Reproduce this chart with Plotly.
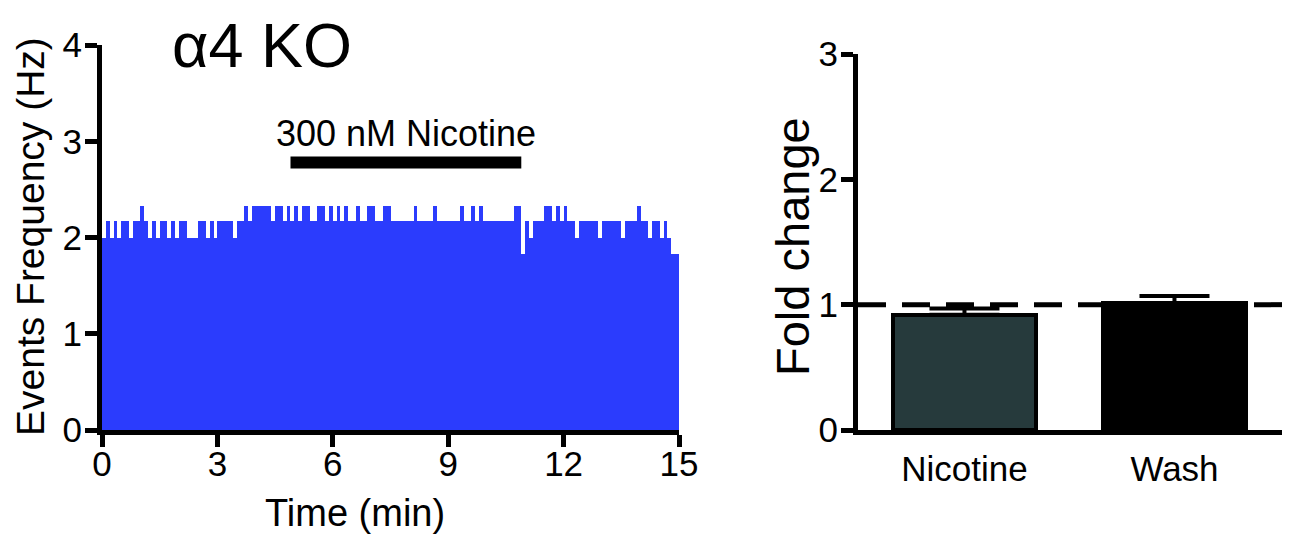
import plotly.graph_objects as go

# ---------------- data ----------------
# Left panel: event frequency (Hz) in consecutive 6-s bins over 15 min
bin_width_min = 0.1
freq_hz = [
    2.0, 2.17, 2.0, 2.17, 2.0, 2.17, 2.17, 2.0, 2.17, 2.17,
    2.33, 2.17, 2.0, 2.17, 2.0, 2.17, 2.17, 2.0, 2.17, 2.0,
    2.17, 2.17, 2.0, 2.0, 2.0, 2.17, 2.17, 2.0, 2.17, 2.0,
    2.17, 2.17, 2.17, 2.17, 2.0, 2.17, 2.17, 2.33, 2.17, 2.33,
    2.33, 2.33, 2.33, 2.33, 2.17, 2.33, 2.33, 2.17, 2.33, 2.17,
    2.33, 2.17, 2.33, 2.33, 2.17, 2.17, 2.33, 2.33, 2.17, 2.33,
    2.17, 2.33, 2.17, 2.33, 2.17, 2.17, 2.33, 2.17, 2.17, 2.33,
    2.33, 2.17, 2.17, 2.33, 2.33, 2.17, 2.17, 2.17, 2.17, 2.17,
    2.17, 2.33, 2.17, 2.17, 2.17, 2.17, 2.33, 2.17, 2.17, 2.17,
    2.17, 2.17, 2.17, 2.33, 2.17, 2.17, 2.33, 2.17, 2.33, 2.17,
    2.17, 2.17, 2.17, 2.17, 2.17, 2.17, 2.17, 2.33, 2.33, 1.83,
    2.17, 2.0, 2.17, 2.17, 2.17, 2.33, 2.33, 2.17, 2.33, 2.17,
    2.33, 2.17, 2.17, 2.0, 2.17, 2.17, 2.17, 2.17, 2.17, 2.0,
    2.17, 2.17, 2.17, 2.17, 2.17, 2.0, 2.17, 2.17, 2.17, 2.33,
    2.17, 2.17, 2.0, 2.17, 2.17, 2.0, 2.17, 2.0, 1.83, 1.83,
]
time_ticks = [0, 3, 6, 9, 12, 15]
freq_ticks = [0, 1, 2, 3, 4]
nicotine_window_min = [4.9, 10.9]
nicotine_bar_level = 2.78

# Right panel: fold change
conditions = ["Nicotine", "Wash"]
fold_change = [0.92, 1.01]
fold_sem = [0.05, 0.06]
fold_ticks = [0, 1, 2, 3]
baseline = 1.0

# ---------------- styles ----------------
W, H = 1292, 538
OFF = 8  # page body margin in the browser
FONT = "Arial, Liberation Sans, sans-serif"
BLUE = "#2b3cfd"
BAR_COLORS = ["#263a3c", "#000000"]


def px(x):
    return (x - OFF) / W


def py(y):
    return 1 - (y - OFF) / H


centers = [bin_width_min * (i + 0.5) for i in range(len(freq_hz))]

fig = go.Figure()

fig.add_trace(go.Bar(
    x=centers, y=freq_hz, width=bin_width_min,
    marker=dict(color=BLUE, line=dict(width=0)),
    xaxis="x", yaxis="y", showlegend=False, hoverinfo="skip",
))

fig.add_trace(go.Scatter(
    x=nicotine_window_min, y=[nicotine_bar_level] * 2, mode="lines",
    line=dict(color="black", width=12),
    xaxis="x", yaxis="y", showlegend=False, hoverinfo="skip",
))

cat_pos = list(range(len(conditions)))
fig.add_trace(go.Bar(
    x=cat_pos, y=fold_change, width=0.68,
    marker=dict(color=BAR_COLORS, line=dict(color="black", width=4)),
    error_y=dict(type="data", array=fold_sem, arrayminus=[0] * len(fold_sem),
                 symmetric=False, color="black", thickness=4, width=35),
    xaxis="x2", yaxis="y2", showlegend=False, hoverinfo="skip",
))

fig.add_trace(go.Scatter(
    x=[-0.507, 1.512], y=[baseline, baseline], mode="lines",
    line=dict(color="black", width=5, dash="28px,16px"),
    xaxis="x2", yaxis="y2", showlegend=False, hoverinfo="skip",
))

axis_common = dict(
    showline=True, linewidth=5, linecolor="black", showgrid=False,
    zeroline=False, tickfont=dict(family=FONT, size=35, color="black"),
    tickcolor="black", automargin=False,
)

fig.update_layout(
    width=W, height=H,
    margin=dict(l=0, r=0, t=0, b=0, pad=0),
    paper_bgcolor="white", plot_bgcolor="white",
    bargap=0,
    font=dict(family=FONT, color="black"),
    xaxis=dict(
        domain=[px(102), px(679)], range=[0, 15], anchor="y",
        tickvals=time_ticks, ticks="outside", ticklen=12, tickwidth=5,
        ticklabelstandoff=-13,
        **axis_common,
    ),
    yaxis=dict(
        domain=[py(430), py(45)], range=[0, 4], anchor="x",
        tickvals=freq_ticks, ticks="outside", ticklen=12, tickwidth=5,
        ticklabelstandoff=-4,
        **axis_common,
    ),
    xaxis2=dict(
        domain=[px(858), px(1282)], range=[-0.507, 1.512], anchor="y2",
        tickvals=cat_pos, ticktext=conditions, ticks="", ticklabelstandoff=4,
        **axis_common,
    ),
    yaxis2=dict(
        domain=[py(430), py(54)], range=[0, 3], anchor="x2",
        tickvals=fold_ticks, ticks="outside", ticklen=12, tickwidth=5,
        ticklabelstandoff=-4,
        **axis_common,
    ),
    annotations=[
        dict(text="α4 KO", x=px(262), y=py(45), xref="paper", yref="paper",
             showarrow=False, font=dict(size=63, family=FONT), xanchor="center", yanchor="middle"),
        dict(text="300 nM Nicotine", x=(nicotine_window_min[0] + nicotine_window_min[1]) / 2,
             y=3.08, xref="x", yref="y", showarrow=False,
             font=dict(size=36, family=FONT), xanchor="center", yanchor="middle"),
        dict(text="Events Frequency (Hz)", x=px(30), y=py(237), xref="paper", yref="paper",
             showarrow=False, textangle=-90, font=dict(size=39, family=FONT),
             xanchor="center", yanchor="middle"),
        dict(text="Time (min)", x=px(355), y=py(513), xref="paper", yref="paper",
             showarrow=False, font=dict(size=38, family=FONT), xanchor="center", yanchor="middle"),
        dict(text="Fold change", x=px(793), y=py(247), xref="paper", yref="paper",
             showarrow=False, textangle=-90, font=dict(size=47, family=FONT),
             xanchor="center", yanchor="middle"),
    ],
)

fig.write_html("out.html")
